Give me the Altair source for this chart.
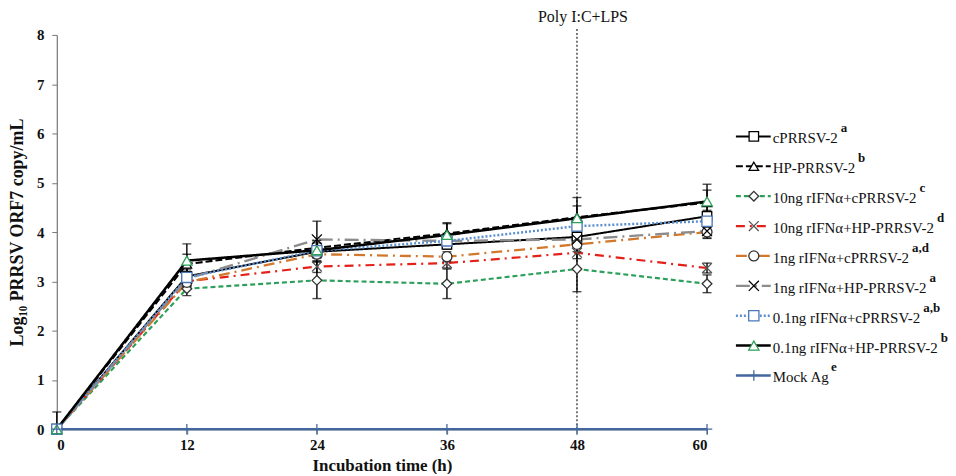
import altair as alt
import pandas as pd

# ---------------- data ----------------
times = [0, 12, 24, 36, 48, 60]
series_names = [
    "cPRRSV-2",
    "HP-PRRSV-2",
    "10ng rIFNα+cPRRSV-2",
    "10ng rIFNα+HP-PRRSV-2",
    "1ng rIFNα+cPRRSV-2",
    "1ng rIFNα+HP-PRRSV-2",
    "0.1ng rIFNα+cPRRSV-2",
    "0.1ng rIFNα+HP-PRRSV-2",
    "Mock Ag",
]
superscripts = ["a", "b", "c", "d", "a,d", "a", "a,b", "b", "e"]

cprrsv = [0.00, 3.10, 3.60, 3.75, 3.90, 4.32]
hp = [0.00, 3.35, 3.68, 3.97, 4.30, 4.60]
ifn10_c = [0.00, 2.85, 3.02, 2.95, 3.25, 2.95]
ifn10_hp = [0.00, 3.00, 3.30, 3.37, 3.58, 3.27]
ifn1_c = [0.00, 2.98, 3.55, 3.50, 3.75, 4.00]
ifn1_hp = [0.00, 3.05, 3.85, 3.82, 3.85, 4.02]
ifn01_c = [0.00, 3.08, 3.62, 3.82, 4.12, 4.22]
ifn01_hp = [0.00, 3.42, 3.63, 3.94, 4.28, 4.62]
mock = [0.00, 0.00, 0.00, 0.00, 0.00, 0.00]

err_cprrsv = [0.00, 0.15, 0.12, 0.10, 0.15, 0.12]
err_hp = [0.00, 0.20, 0.15, 0.20, 0.40, 0.25]
err_ifn10_c = [0.00, 0.14, 0.37, 0.30, 0.46, 0.18]
err_ifn10_hp = [0.00, 0.10, 0.12, 0.10, 0.12, 0.10]
err_ifn1_c = [0.00, 0.12, 0.15, 0.10, 0.15, 0.12]
err_ifn1_hp = [0.35, 0.15, 0.37, 0.15, 0.15, 0.15]
err_ifn01_c = [0.00, 0.12, 0.10, 0.12, 0.15, 0.12]
err_ifn01_hp = [0.00, 0.34, 0.15, 0.25, 0.25, 0.35]
err_mock = [0.00, 0.00, 0.00, 0.00, 0.00, 0.00]

all_values = [cprrsv, hp, ifn10_c, ifn10_hp, ifn1_c, ifn1_hp, ifn01_c, ifn01_hp, mock]
all_errors = [err_cprrsv, err_hp, err_ifn10_c, err_ifn10_hp, err_ifn1_c,
              err_ifn1_hp, err_ifn01_c, err_ifn01_hp, err_mock]

event_time = 48
event_label = "Poly I:C+LPS"

# ---------------- styles ----------------
line_colors = ["#000000", "#000000", "#2ca05a", "#e32119", "#d2782c",
               "#8c8c8c", "#5b8fd0", "#000000", "#44689e"]
line_dashes = [[1, 0], [7, 3], [5, 3], [9, 5, 2, 5], [11, 5, 2, 5],
               [14, 5, 2, 5], [2, 2], [1, 0], [1, 0]]
line_widths = [2.0, 2.6, 2.0, 2.2, 2.4, 2.6, 1.4, 1.6, 1.5]
X_PATH = "M-1,-1L1,1M-1,1L1,-1"
PLUS_PATH = "M-1,0L1,0M0,-1L0,1"
shapes = ["square", "triangle-up", "diamond", X_PATH, "circle", X_PATH,
          "square", "triangle-up", PLUS_PATH]
marker_strokes = ["#000000", "#000000", "#333333", "#555555", "#333333",
                  "#000000", "#4a78b8", "#2ea05a", "#44689e"]
marker_sizes = [90, 110, 80, 60, 70, 70, 150, 130, 80]
marker_widths = [1.3, 1.3, 1.2, 1.3, 1.2, 2.2, 1.6, 1.6, 1.3]

FONT = "Liberation Serif"

rows = []
for name, vals, errs in zip(series_names, all_values, all_errors):
    for t, v, e in zip(times, vals, errs):
        rows.append({"series": name, "time": t, "value": v,
                     "lo": max(0.0, v - e), "hi": v + e, "err": e})
df = pd.DataFrame(rows)
df_err = df[df["err"] > 0]

color_scale = alt.Scale(domain=series_names, range=line_colors)
dash_scale = alt.Scale(domain=series_names, range=line_dashes)
lw_scale = alt.Scale(domain=series_names, range=line_widths)
shape_scale = alt.Scale(domain=series_names, range=shapes)
mstroke_scale = alt.Scale(domain=series_names, range=marker_strokes)
msize_scale = alt.Scale(domain=series_names, range=marker_sizes)
mw_scale = alt.Scale(domain=series_names, range=marker_widths)

W, H = 653, 396

xenc = alt.X("time:Q", scale=alt.Scale(domain=[0, 60], nice=False),
             axis=alt.Axis(values=times, title="Incubation time (h)",
                           labelPadding=3, titlePadding=5, tickSize=5))
yenc = alt.Y("value:Q", scale=alt.Scale(domain=[0, 8], nice=False),
             axis=alt.Axis(values=list(range(9)), title="Log₁₀ PRRSV ORF7 copy/mL",
                           labelPadding=8, titlePadding=10, tickSize=5,
                           titleFontSize=18))

base = alt.Chart(df)

lines = base.mark_line().encode(
    x=xenc, y=yenc,
    color=alt.Color("series:N", scale=color_scale, legend=None),
    strokeDash=alt.StrokeDash("series:N", scale=dash_scale, legend=None),
    strokeWidth=alt.StrokeWidth("series:N", scale=lw_scale, legend=None),
    order=alt.Order("time:Q"),
)

ebars = alt.Chart(df_err).mark_rule(color="#000000", strokeWidth=1.4).encode(
    x="time:Q", y="lo:Q", y2="hi:Q")
cap_hi = alt.Chart(df_err).mark_tick(color="#000000", orient="horizontal",
                                     size=9, thickness=1.4).encode(x="time:Q", y="hi:Q")
cap_lo = alt.Chart(df_err).mark_tick(color="#000000", orient="horizontal",
                                     size=9, thickness=1.4).encode(x="time:Q", y="lo:Q")

points = base.mark_point(filled=False, fill="white", fillOpacity=1, opacity=1).encode(
    x="time:Q", y="value:Q",
    shape=alt.Shape("series:N", scale=shape_scale, legend=None),
    stroke=alt.Stroke("series:N", scale=mstroke_scale, legend=None),
    size=alt.Size("series:N", scale=msize_scale, legend=None),
    strokeWidth=alt.StrokeWidth("series:N", scale=mw_scale, legend=None),
)

ev_df = pd.DataFrame({"time": [event_time], "y0": [0.0], "y1": [8.12], "ytext": [8.0],
                      "label": [event_label]})
ev_rule = alt.Chart(ev_df).mark_rule(color="#333333", strokeDash=[2, 2], strokeWidth=1.3).encode(
    x="time:Q", y="y0:Q", y2="y1:Q")
ev_text = alt.Chart(ev_df).mark_text(font=FONT, fontSize=16, color="#111111",
                                     baseline="middle", dy=-18, dx=6).encode(
    x="time:Q", y="ytext:Q", text="label:N")

main = alt.layer(ev_rule, lines, ebars, cap_hi, cap_lo, points, ev_text).properties(
    width=W, height=H).resolve_scale(strokeWidth="independent")

# ---------------- legend panel ----------------
TIMES_W = {'c': 444, 'P': 556, 'R': 667, 'S': 556, 'V': 722, '-': 333, '2': 500,
           'H': 722, '1': 500, '0': 500, 'n': 500, 'g': 500, ' ': 250, 'r': 333,
           'I': 333, 'F': 556, 'N': 722, 'α': 520, '+': 564, '.': 250, 'M': 889,
           'o': 500, 'k': 500, 'A': 722}
LFS = 15
LW = 226


def text_width(s, fs):
    return sum(TIMES_W.get(ch, 500) for ch in s) * fs / 1000.0


leg_rows = []
for i, (name, sup) in enumerate(zip(series_names, superscripts)):
    tx = 58
    leg_rows.append({"series": name, "row": i, "x0": 21, "x1": 56, "xm": 39,
                     "tx": tx, "sx": tx + text_width(name, LFS) + 1.5, "sup": sup})
leg_df = pd.DataFrame(leg_rows)

lx = alt.Scale(domain=[0, LW], nice=False)
ly = alt.Scale(domain=[-3.4, -3.4 + H / 30.0], reverse=True, nice=False, zero=False)

leg_base = alt.Chart(leg_df)
leg_lines = leg_base.mark_rule().encode(
    x=alt.X("x0:Q", scale=lx, axis=None), x2="x1:Q",
    y=alt.Y("row:Q", scale=ly, axis=None),
    color=alt.Color("series:N", scale=color_scale, legend=None),
    strokeDash=alt.StrokeDash("series:N", scale=dash_scale, legend=None),
    strokeWidth=alt.StrokeWidth("series:N", scale=lw_scale, legend=None),
)
leg_pts = leg_base.mark_point(filled=False, fill="white", fillOpacity=1, opacity=1).encode(
    x=alt.X("xm:Q", scale=lx, axis=None),
    y=alt.Y("row:Q", scale=ly, axis=None),
    shape=alt.Shape("series:N", scale=shape_scale, legend=None),
    stroke=alt.Stroke("series:N", scale=mstroke_scale, legend=None),
    size=alt.Size("series:N", scale=msize_scale, legend=None),
    strokeWidth=alt.StrokeWidth("series:N", scale=mw_scale, legend=None),
)
leg_txt = leg_base.mark_text(font=FONT, fontSize=LFS, align="left", baseline="middle",
                             color="#111111", dy=2).encode(
    x=alt.X("tx:Q", scale=lx, axis=None),
    y=alt.Y("row:Q", scale=ly, axis=None),
    text="series:N")
leg_sup = leg_base.mark_text(font=FONT, fontSize=13, fontWeight="bold", align="left",
                             baseline="middle", color="#111111", dy=-8).encode(
    x=alt.X("sx:Q", scale=lx, axis=None),
    y=alt.Y("row:Q", scale=ly, axis=None),
    text="sup:N")

legend_panel = alt.layer(leg_lines, leg_pts, leg_txt, leg_sup).properties(
    width=LW, height=H).resolve_scale(strokeWidth="independent")

chart = alt.hconcat(main, legend_panel, spacing=0).properties(padding=0).configure_view(
    stroke=None).configure_axis(
    grid=False,
    labelFont=FONT, labelFontSize=15, labelFontWeight="bold", labelColor="#111111",
    titleFont=FONT, titleFontSize=17, titleFontWeight="bold", titleColor="#111111",
    domainColor="#777777", tickColor="#777777", domainWidth=1.2,
).configure_concat(spacing=0)

chart.save("out.html", embed_options={"renderer": "svg", "actions": False})
